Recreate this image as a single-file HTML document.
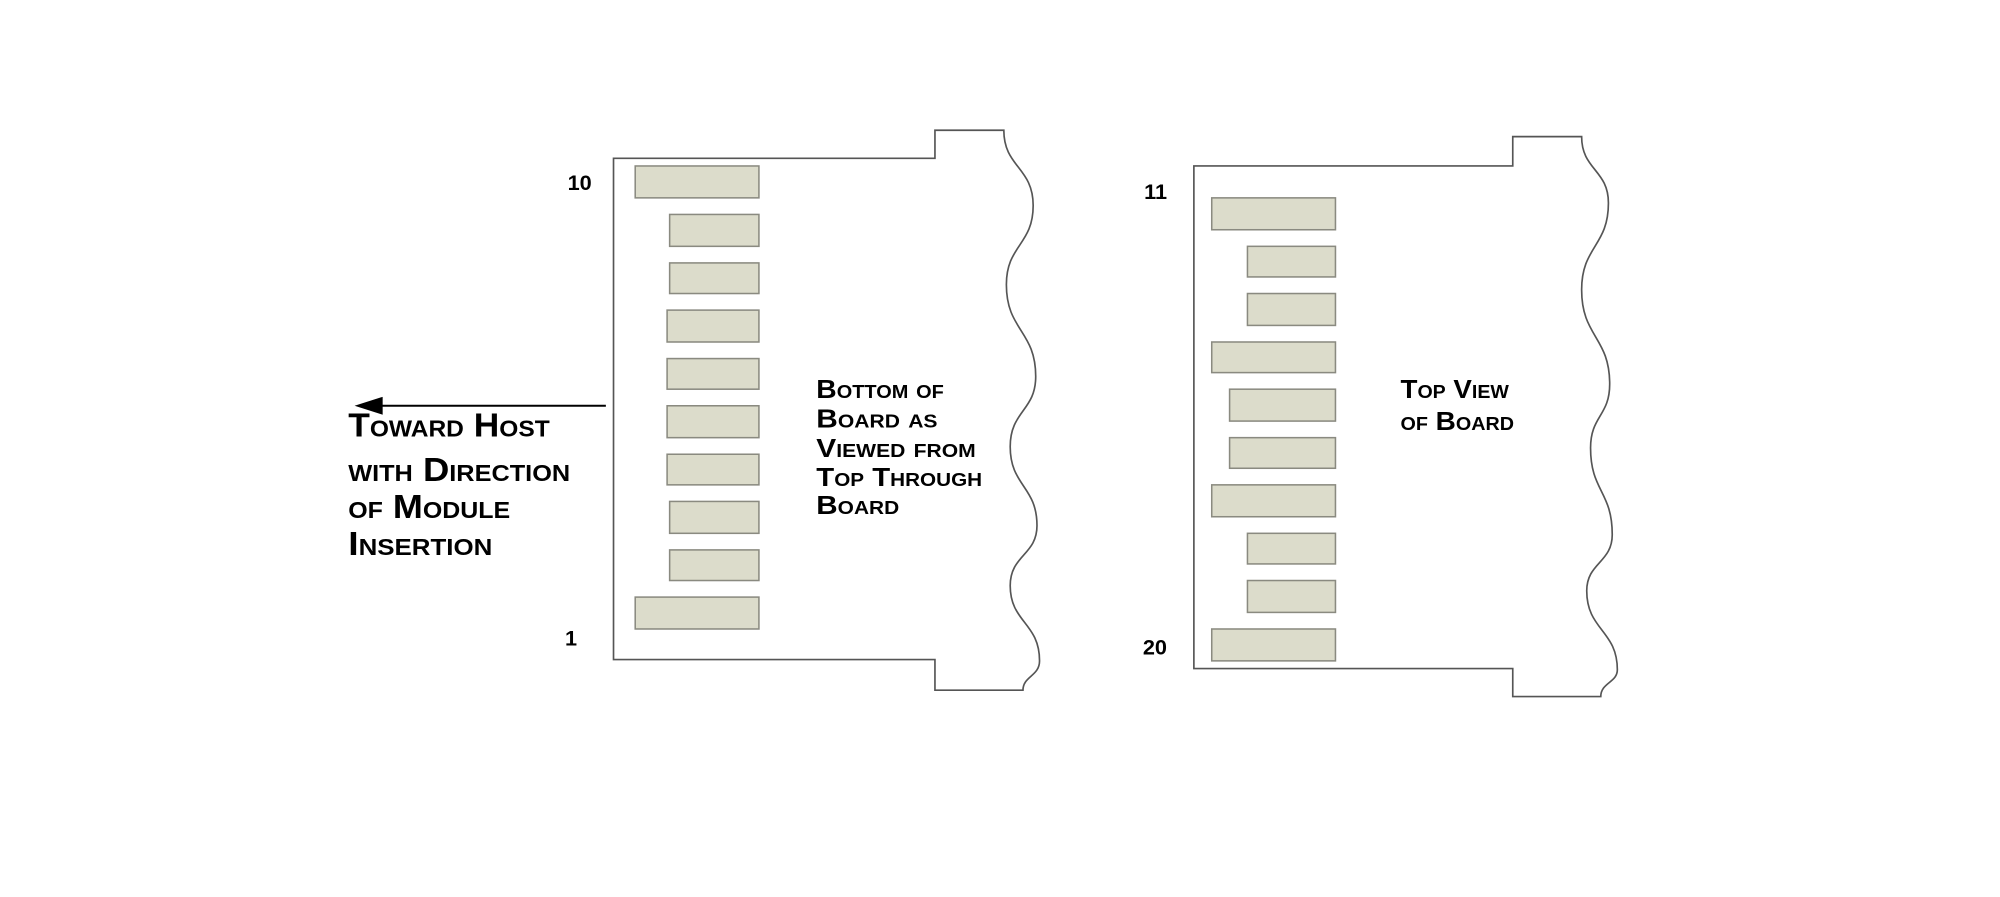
<!DOCTYPE html>
<html><head><meta charset="utf-8"><style>
html,body{margin:0;padding:0;background:#fff;}
svg{display:block;}
text{font-family:"Liberation Sans",sans-serif;font-weight:bold;fill:#000;}
.sc{font-variant:small-caps;}
</style></head><body>
<svg width="2000" height="897" viewBox="0 0 1568 703" xmlns="http://www.w3.org/2000/svg">
<rect width="1568" height="703" fill="#fff"/>
<g fill="none" stroke="#555" stroke-width="1.3">
<path d="M481,124 L733,124 L733,102 L787,102 C787,131 810,131 810,161 C810,192 789,192 789,223 C789,259 812,259 812,295 C812,322 792,322 792,350 C792,381 813,381 813,412 C813,435 792,435 792,459 C792,488 815,488 815,518 C815,530 802,530 802,541 L733,541 L733,517 L481,517 Z"/>
<path d="M936,130 L1186,130 L1186,107 L1240,107 C1240,133 1261,133 1261,159 C1261,193 1240,193 1240,227 C1240,264 1262,264 1262,301 C1262,326 1247,326 1247,351 C1247,385 1264,385 1264,419 C1264,441 1244,441 1244,463 C1244,494 1268,494 1268,525 C1268,535 1255,535 1255,546 L1186,546 L1186,524 L936,524 Z"/>
</g>
<g fill="#dcdccb" stroke="#8a8a80" stroke-width="1.2">
<rect x="498" y="130" width="97" height="25"/>
<rect x="525" y="168" width="70" height="25"/>
<rect x="525" y="206" width="70" height="24"/>
<rect x="523" y="243" width="72" height="25"/>
<rect x="523" y="281" width="72" height="24"/>
<rect x="523" y="318" width="72" height="25"/>
<rect x="523" y="356" width="72" height="24"/>
<rect x="525" y="393" width="70" height="25"/>
<rect x="525" y="431" width="70" height="24"/>
<rect x="498" y="468" width="97" height="25"/>

<rect x="950" y="155" width="97" height="25"/>
<rect x="978" y="193" width="69" height="24"/>
<rect x="978" y="230" width="69" height="25"/>
<rect x="950" y="268" width="97" height="24"/>
<rect x="964" y="305" width="83" height="25"/>
<rect x="964" y="343" width="83" height="24"/>
<rect x="950" y="380" width="97" height="25"/>
<rect x="978" y="418" width="69" height="24"/>
<rect x="978" y="455" width="69" height="25"/>
<rect x="950" y="493" width="97" height="25"/>
</g>
<line x1="290" y1="318" x2="475" y2="318" stroke="#000" stroke-width="1.6"/>
<polygon points="278,318 300,311 300,325" fill="#000"/>
<g font-size="17">
<text x="445" y="149">10</text>
<text x="443" y="506">1</text>
<text x="897" y="156">11</text>
<text x="896" y="513">20</text>
</g>
<g class="sc" font-size="26" lengthAdjust="spacingAndGlyphs">
<text x="273" y="342" textLength="158" lengthAdjust="spacingAndGlyphs">Toward Host</text>
<text x="273" y="377" textLength="174" lengthAdjust="spacingAndGlyphs">with Direction</text>
<text x="273" y="406" textLength="127" lengthAdjust="spacingAndGlyphs">of Module</text>
<text x="273" y="435" textLength="113" lengthAdjust="spacingAndGlyphs">Insertion</text>
</g>
<g class="sc" font-size="20">
<text x="640" y="312" textLength="100" lengthAdjust="spacingAndGlyphs">Bottom of</text>
<text x="640" y="335" textLength="95" lengthAdjust="spacingAndGlyphs">Board as</text>
<text x="640" y="358" textLength="125" lengthAdjust="spacingAndGlyphs">Viewed from</text>
<text x="640" y="381" textLength="130" lengthAdjust="spacingAndGlyphs">Top Through</text>
<text x="640" y="403" textLength="65" lengthAdjust="spacingAndGlyphs">Board</text>
<text x="1098" y="312" textLength="85" lengthAdjust="spacingAndGlyphs">Top View</text>
<text x="1098" y="337" textLength="89" lengthAdjust="spacingAndGlyphs">of Board</text>
</g>
</svg>
</body></html>
